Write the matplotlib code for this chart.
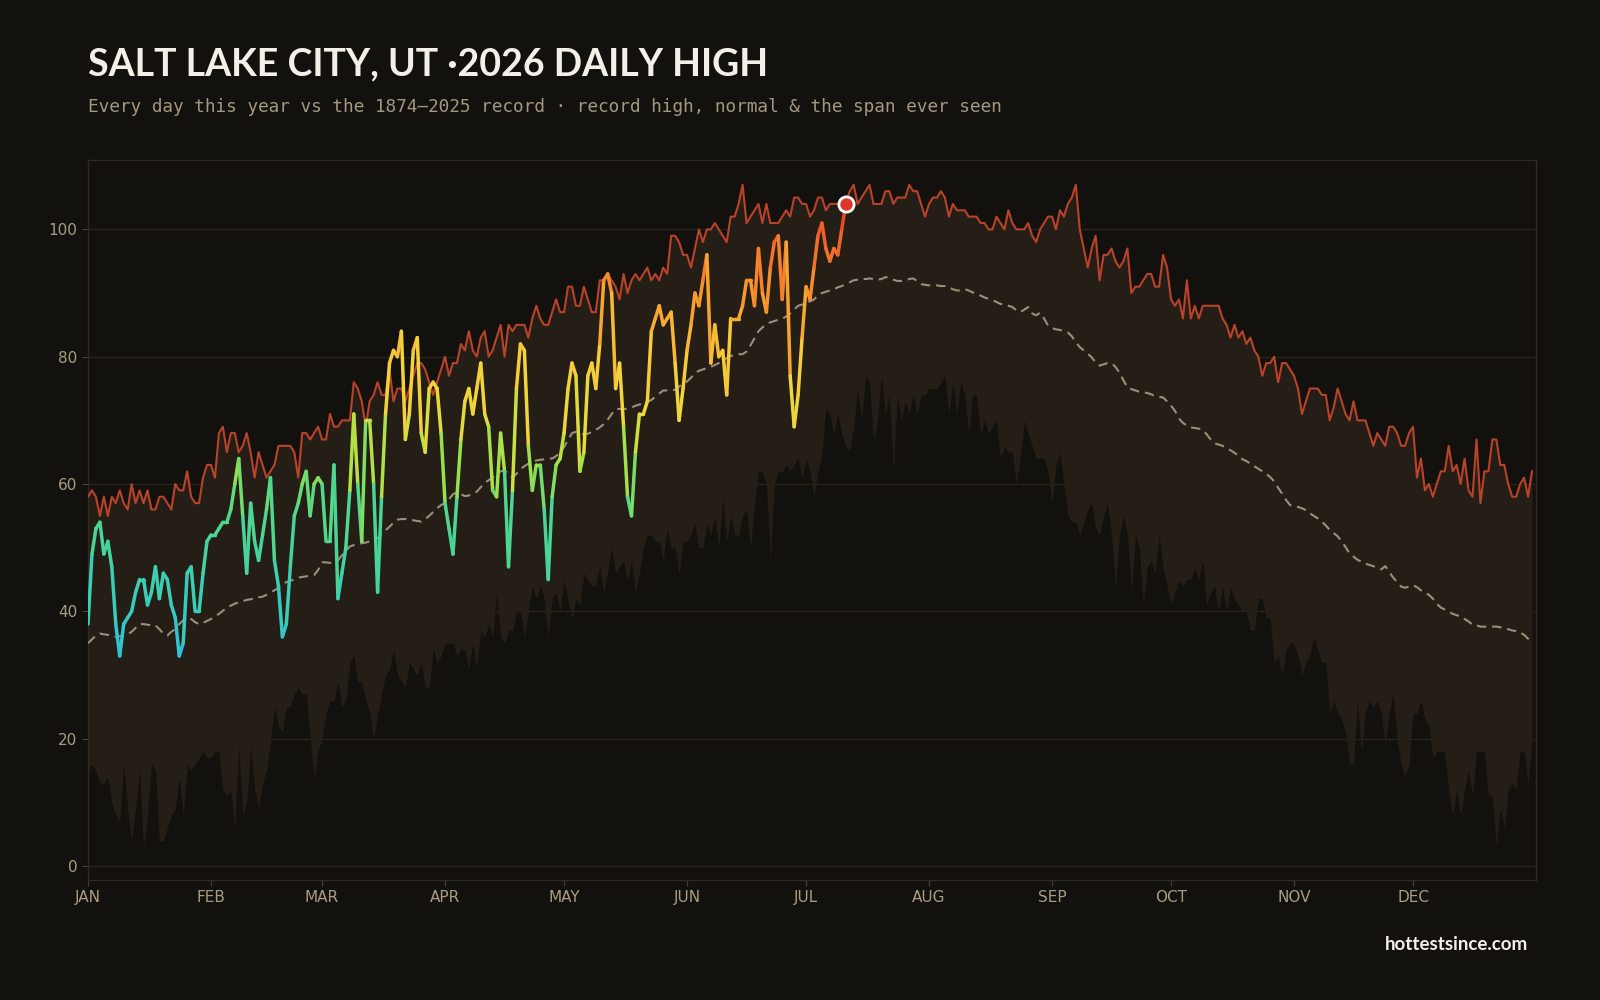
import numpy as np
import matplotlib.pyplot as plt
from matplotlib.collections import LineCollection
from matplotlib.colors import LinearSegmentedColormap, Normalize

BG = '#13110d'
BAND = '#241e17'
TXT = '#a89c86'

month_starts = [0, 31, 59, 90, 120, 151, 181, 212, 243, 273, 304, 334]
month_labels = ['JAN', 'FEB', 'MAR', 'APR', 'MAY', 'JUN',
                'JUL', 'AUG', 'SEP', 'OCT', 'NOV', 'DEC']

# record high (1874-2025), one value per day of year
rec_high = [
    58, 59, 58, 55, 58, 55, 58, 57, 59, 57,
    56, 60, 57, 59, 57, 59, 56, 56, 58, 58,
    57, 56, 60, 59, 59, 62, 58, 57, 57, 61,
    63, 63, 61, 68, 69, 65, 68, 68, 65, 66,
    68, 65, 61, 65, 63, 61, 62, 63, 66, 66,
    66, 66, 65, 61, 68, 68, 67, 68, 69, 67,
    67, 71, 69, 69, 70, 70, 70, 76, 75, 73,
    69, 73, 74, 76, 74, 74, 78, 73, 75, 75,
    73, 75, 77, 79, 79, 78, 76, 74, 76, 78,
    80, 77, 79, 79, 82, 81, 84, 81, 80, 83,
    84, 80, 81, 83, 85, 80, 85, 84, 85, 85,
    85, 83, 86, 88, 86, 85, 85, 87, 89, 87,
    87, 91, 91, 88, 88, 91, 89, 87, 87, 92,
    92, 93, 92, 91, 89, 93, 90, 92, 93, 92,
    93, 94, 92, 93, 92, 94, 93, 99, 99, 98,
    96, 96, 94, 97, 100, 98, 100, 100, 101, 100,
    99, 98, 102, 102, 104, 107, 101, 102, 103, 104,
    101, 104, 101, 101, 101, 102, 103, 102, 105, 105,
    104, 104, 102, 103, 105, 105, 103, 104, 104, 104,
    104, 104, 106, 107, 104, 105, 106, 107, 104, 104,
    104, 106, 106, 104, 105, 105, 105, 107, 106, 106,
    104, 102, 104, 105, 105, 106, 105, 102, 104, 103,
    103, 103, 102, 102, 102, 101, 101, 100, 100, 102,
    101, 100, 103, 101, 100, 100, 100, 101, 99, 98,
    100, 101, 102, 102, 100, 103, 102, 104, 105, 107,
    100, 97, 94, 97, 99, 92, 96, 96, 97, 95,
    94, 95, 97, 90, 91, 91, 92, 93, 93, 91,
    91, 96, 94, 89, 88, 89, 86, 92, 86, 88,
    86, 88, 88, 88, 88, 88, 86, 85, 83, 85,
    83, 84, 82, 83, 81, 80, 77, 79, 79, 80,
    76, 79, 79, 78, 77, 75, 71, 73, 75, 75,
    75, 74, 74, 70, 72, 75, 73, 71, 70, 73,
    70, 70, 70, 68, 66, 68, 67, 66, 69, 69,
    68, 66, 66, 68, 69, 61, 64, 59, 60, 58,
    60, 62, 62, 66, 62, 63, 60, 64, 59, 58,
    67, 57, 62, 62, 67, 67, 63, 63, 60, 58,
    58, 60, 61, 58, 62,
]

# lowest daily high ever seen (bottom of the span)
rec_low = [
    15, 16, 15, 13, 13, 14, 10, 8, 7, 16,
    9, 4, 9, 15, 3, 8, 16, 15, 4, 4,
    6, 8, 9, 14, 8, 16, 15, 16, 17, 18,
    17, 17, 18, 18, 12, 11, 12, 6, 19, 8,
    10, 19, 12, 9, 13, 15, 20, 25, 22, 21,
    25, 25, 27, 28, 27, 27, 20, 14, 18, 20,
    24, 26, 26, 29, 25, 26, 32, 33, 29, 29,
    26, 24, 20, 24, 27, 30, 31, 34, 30, 29,
    28, 32, 31, 30, 32, 28, 28, 34, 32, 33,
    35, 35, 35, 33, 34, 34, 31, 35, 31, 37,
    36, 38, 36, 43, 36, 35, 37, 37, 40, 40,
    36, 40, 44, 42, 44, 42, 36, 42, 43, 40,
    45, 42, 39, 42, 41, 46, 45, 44, 44, 47,
    43, 46, 50, 46, 47, 48, 45, 48, 43, 46,
    50, 52, 52, 51, 51, 48, 53, 50, 50, 46,
    51, 51, 52, 54, 50, 50, 54, 52, 55, 50,
    58, 51, 55, 52, 52, 55, 56, 50, 57, 62,
    62, 60, 48, 60, 62, 62, 63, 62, 63, 64,
    61, 64, 62, 58, 62, 65, 72, 71, 68, 71,
    68, 66, 65, 69, 75, 70, 77, 76, 67, 70,
    77, 71, 74, 62, 74, 70, 73, 71, 74, 71,
    74, 74, 75, 75, 75, 76, 77, 71, 76, 71,
    76, 74, 68, 74, 74, 68, 70, 68, 69, 70,
    64, 66, 65, 65, 60, 64, 70, 68, 66, 64,
    64, 64, 62, 57, 63, 65, 60, 55, 54, 54,
    52, 54, 56, 57, 53, 52, 55, 57, 52, 44,
    52, 55, 52, 43, 52, 50, 41, 47, 48, 46,
    52, 47, 44, 41, 43, 45, 44, 45, 45, 47,
    45, 48, 41, 43, 44, 40, 44, 40, 44, 42,
    41, 40, 40, 37, 37, 42, 42, 39, 39, 32,
    33, 30, 34, 35, 35, 33, 30, 32, 33, 36,
    34, 32, 32, 24, 26, 24, 23, 21, 16, 16,
    26, 18, 24, 26, 25, 26, 24, 19, 24, 27,
    20, 16, 14, 16, 24, 24, 26, 23, 22, 17,
    18, 18, 18, 12, 8, 12, 8, 12, 15, 11,
    18, 18, 18, 11, 11, 3, 9, 6, 12, 13,
    12, 18, 18, 13, 20,
]

# normal daily high
normal = [
    35.0, 35.6, 36.2, 36.5, 36.4, 36.3, 36.1, 36.0, 36.1, 36.2,
    36.4, 36.8, 37.4, 38.0, 38.0, 37.9, 37.8, 37.8, 37.2, 36.5,
    36.2, 36.8, 37.2, 38.0, 38.6, 39.0, 38.8, 38.3, 38.0, 38.2,
    38.5, 38.8, 39.2, 39.6, 40.1, 40.5, 40.9, 41.2, 41.4, 41.6,
    41.8, 41.9, 42.0, 42.2, 42.3, 42.6, 43.0, 43.3, 43.7, 44.2,
    44.6, 44.8, 45.0, 45.3, 45.4, 45.5, 45.6, 45.7, 46.5, 47.7,
    47.7, 47.6, 47.8, 48.0, 48.8, 49.5, 50.2, 50.4, 50.5, 50.7,
    50.8, 51.0, 51.0, 51.5, 52.2, 52.7, 53.3, 53.9, 54.4, 54.5,
    54.5, 54.4, 54.3, 54.2, 54.1, 54.5, 55.0, 55.6, 56.2, 56.7,
    57.0, 57.6, 58.4, 58.7, 58.4, 58.1, 58.2, 58.5, 58.8, 59.5,
    60.2, 60.6, 61.0, 61.5, 62.0, 62.1, 61.6, 61.0, 61.6, 62.3,
    62.8, 63.2, 63.5, 63.7, 63.8, 63.9, 64.0, 64.0, 64.4, 64.9,
    65.8, 66.9, 68.0, 68.2, 68.0, 67.8, 67.9, 68.2, 68.5, 68.9,
    69.4, 70.1, 71.0, 71.8, 71.8, 71.8, 71.8, 72.0, 72.3, 72.5,
    72.7, 72.9, 73.2, 73.7, 74.2, 74.7, 74.7, 74.7, 74.8, 75.3,
    75.7, 76.1, 76.7, 77.4, 77.8, 78.0, 78.2, 78.4, 78.7, 79.0,
    79.4, 79.8, 80.1, 80.3, 80.4, 80.4, 80.8, 81.8, 82.9, 84.0,
    84.6, 85.1, 85.4, 85.6, 85.8, 86.0, 86.3, 86.8, 87.4, 88.0,
    88.2, 88.5, 88.7, 89.0, 89.6, 90.0, 90.2, 90.4, 90.6, 90.9,
    91.1, 91.4, 91.7, 92.0, 92.1, 92.2, 92.2, 92.3, 92.2, 92.1,
    92.2, 92.5, 92.4, 92.1, 91.9, 91.9, 92.0, 92.2, 92.3, 91.9,
    91.4, 91.3, 91.2, 91.2, 91.2, 91.1, 91.1, 90.9, 90.6, 90.4,
    90.4, 90.6, 90.4, 90.1, 89.9, 89.6, 89.3, 89.1, 88.9, 88.6,
    88.3, 88.2, 88.0, 87.8, 87.3, 87.0, 87.4, 87.8, 86.8, 86.5,
    86.9, 86.0, 84.9, 84.5, 84.3, 84.2, 84.0, 83.8, 83.2, 82.3,
    81.5, 81.0, 80.5, 79.9, 79.1, 78.6, 78.8, 79.0, 79.0, 78.4,
    77.5, 76.3, 75.2, 74.9, 74.7, 74.5, 74.4, 74.3, 74.1, 73.8,
    73.7, 73.6, 73.0, 72.3, 71.5, 70.3, 69.6, 69.2, 68.9, 68.8,
    68.7, 68.5, 67.8, 67.0, 66.4, 66.2, 66.0, 65.7, 65.3, 64.9,
    64.4, 63.9, 63.6, 63.2, 62.8, 62.4, 62.0, 61.6, 61.1, 60.4,
    59.4, 58.5, 57.5, 56.7, 56.5, 56.4, 56.2, 55.9, 55.4, 55.0,
    54.6, 54.1, 53.5, 52.8, 52.3, 51.8, 51.0, 50.1, 49.1, 48.6,
    48.1, 47.8, 47.5, 47.3, 47.1, 46.8, 46.6, 47.1, 46.2, 45.3,
    44.6, 43.9, 43.7, 43.9, 44.1, 43.8, 43.3, 42.9, 42.6, 42.0,
    41.2, 40.6, 40.3, 40.0, 39.6, 39.4, 39.2, 38.8, 38.4, 37.9,
    37.8, 37.6, 37.6, 37.6, 37.6, 37.6, 37.5, 37.3, 37.2, 37.0,
    36.9, 36.7, 36.3, 35.7, 35.2,
]

# 2026 daily highs so far (Jan 1 - Jul 11)
y2026 = [
    38, 49, 53, 54, 49, 51, 47, 38, 33, 38,
    39, 40, 43, 45, 45, 41, 43, 47, 42, 46,
    45, 41, 39, 33, 35, 46, 47, 40, 40, 46,
    51, 52, 52, 53, 54, 54, 56, 60, 64, 55,
    46, 57, 51, 48, 52, 56, 61, 48, 44, 36,
    38, 47, 55, 57, 60, 62, 55, 60, 61, 60,
    51, 51, 63, 42, 46, 50, 59, 71, 60, 51,
    70, 70, 60, 43, 58, 71, 79, 81, 80, 84,
    67, 71, 81, 83, 68, 65, 75, 76, 75, 68,
    57, 53, 49, 58, 67, 73, 75, 71, 75, 79,
    71, 69, 59, 58, 68, 62, 47, 59, 75, 82,
    81, 66, 59, 63, 63, 56, 45, 58, 63, 64,
    68, 75, 79, 77, 62, 65, 77, 79, 75, 82,
    92, 93, 90, 75, 79, 69, 58, 55, 65, 71,
    71, 73, 84, 86, 88, 85, 86, 87, 79, 70,
    75, 81, 85, 90, 88, 92, 96, 79, 85, 80,
    81, 74, 86, 86, 86, 88, 92, 92, 88, 97,
    90, 87, 94, 98, 99, 89, 98, 77, 69, 74,
    83, 91, 89, 94, 99, 101, 97, 95, 97, 96,
    100, 104,
]

days = np.arange(len(rec_high))
d26 = np.arange(len(y2026))

fig = plt.figure(figsize=(16, 10), dpi=100, facecolor=BG)
ax = fig.add_axes([0.055, 0.12, 0.905, 0.72])
ax.set_facecolor(BG)

# gridlines sit under the band
for v in range(0, 101, 20):
    ax.axhline(v, color='#2b241d', lw=0.9, zorder=0.5)

# span ever seen
ax.fill_between(days, rec_low, rec_high, color=BAND, lw=0, zorder=1)

ax.plot(days, rec_high, color='#b8432a', lw=1.5, zorder=3)
ax.plot(days, normal, color='#9a8f7a', lw=1.5, dashes=(4.5, 2.8), zorder=3)

# this year, coloured by temperature
temp_stops = [33, 42, 50, 57, 62, 67, 72, 80, 88, 95, 101, 104]
temp_colors = ['#2ec2dc', '#38cdb8', '#45d49a', '#55d888', '#94e050', '#c8e040',
               '#f0d83c', '#f8c838', '#f8a030', '#f47a2a', '#ec5424', '#e03a22']
norm = Normalize(temp_stops[0], temp_stops[-1])
cmap = LinearSegmentedColormap.from_list(
    'heat', list(zip(norm(temp_stops), temp_colors)))
pts = np.column_stack([d26, y2026]).reshape(-1, 1, 2)
segs = np.concatenate([pts[:-1], pts[1:]], axis=1)
mids = (np.array(y2026[:-1]) + np.array(y2026[1:])) / 2
lc = LineCollection(segs, colors=cmap(norm(mids)), linewidths=2.5,
                    capstyle='round', joinstyle='round', zorder=4)
ax.add_collection(lc)

ax.scatter([d26[-1]], [y2026[-1]], s=120, color='#e0362a', edgecolors='white',
           linewidths=2, zorder=5)

ax.set_xlim(0, 365)
ax.set_ylim(-2.2, 110.9)
ax.set_xticks(month_starts)
ax.set_xticklabels(month_labels)
ax.set_yticks(range(0, 101, 20))
ax.tick_params(colors=TXT, labelsize=11, length=4, width=0.8)
ax.tick_params(axis='both', color='#4a4237')
for s in ax.spines.values():
    s.set_color('#2f2a23')
    s.set_linewidth(1)

fig.text(0.055, 0.925, 'SALT LAKE CITY, UT ·2026 DAILY HIGH', color='#f4f0e8',
         fontsize=27, fontweight='bold', family='Lato', va='baseline')
fig.text(0.055, 0.888, 'Every day this year vs the 1874\u20132025 record \u00b7 '
         'record high, normal & the span ever seen', color='#a39782',
         fontsize=12.75, family='DejaVu Sans Mono', va='baseline')
fig.text(0.955, 0.05, 'hottestsince.com', color='#f4f0e8', fontsize=13.5,
         fontweight='bold', family='Lato', ha='right', va='baseline')

fig.savefig('out.png', dpi=100, facecolor=BG)
